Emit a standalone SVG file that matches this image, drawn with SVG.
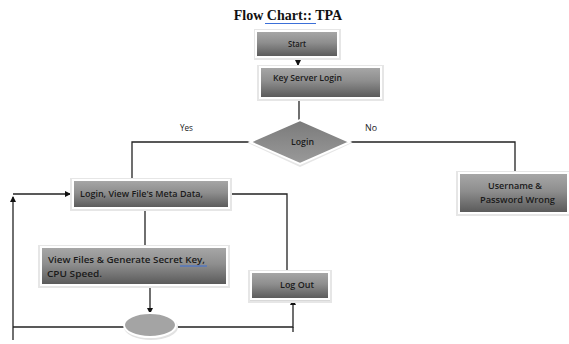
<svg xmlns="http://www.w3.org/2000/svg" width="569" height="344" viewBox="0 0 569 344">
<style>
.box{stroke:#ffffff;stroke-width:2;fill:url(#g)}
.sh{fill:#d8d8d8;stroke:#e6e6e6;stroke-width:2}
.t{font-family:"Open Sans","Liberation Sans",sans-serif;font-size:8.6px;font-weight:600;fill:#1a1a1a}
.c{fill:none;stroke:#222;stroke-width:1.3}
.lbl{font-family:"Open Sans","Liberation Sans",sans-serif;font-size:8.6px;fill:#222}
</style>
<defs>
<linearGradient id="g" x1="0" y1="0" x2="0" y2="1">
<stop offset="0" stop-color="#a8a8a8"/>
<stop offset="0.45" stop-color="#8e8e8e"/>
<stop offset="1" stop-color="#585858"/>
</linearGradient>
<linearGradient id="gd" x1="0" y1="0" x2="0" y2="1">
<stop offset="0" stop-color="#7a7a7a"/>
<stop offset="1" stop-color="#9a9a9a"/>
</linearGradient>
<marker id="ah" markerWidth="6" markerHeight="6" refX="5" refY="3" orient="auto" markerUnits="userSpaceOnUse">
<path d="M0,0 L6,3 L0,6 Z" fill="#111"/>
</marker>
</defs>
<rect width="569" height="344" fill="#ffffff"/>
<g id="title">
<text x="288" y="20" text-anchor="middle" font-family="Liberation Serif,serif" font-weight="bold" font-size="14" fill="#111">Flow Chart:: TPA</text>
<line x1="265" y1="23.5" x2="316" y2="23.5" stroke="#3b6fd8" stroke-width="1.2"/>
</g>
<g id="connectors">
<line class="c" x1="298" y1="57" x2="298" y2="65" marker-end="url(#ah)"/>
<line class="c" x1="299" y1="98" x2="299" y2="121"/>
<polyline class="c" points="250,142 132,142 132,180"/>
<polyline class="c" points="350,142 515,142 515,172"/>
<text class="lbl" x="180" y="131" textLength="13" lengthAdjust="spacingAndGlyphs">Yes</text>
<text class="lbl" x="365" y="131" textLength="12" lengthAdjust="spacingAndGlyphs">No</text>
<line class="c" x1="145" y1="208" x2="145" y2="247"/>
<polyline class="c" points="226,194 287,194 287,271"/>
<line class="c" x1="13" y1="340" x2="13" y2="197" marker-end="url(#ah)"/>
<line class="c" x1="13" y1="194" x2="70" y2="194" marker-end="url(#ah)"/>
<line class="c" x1="150" y1="273" x2="150" y2="313" marker-end="url(#ah)"/>
<line class="c" x1="13" y1="327" x2="124" y2="327"/>
<polyline class="c" points="178,327 293,327 293,300" marker-end="url(#ah)"/>
<line class="c" x1="293" y1="327" x2="293" y2="332"/>
</g>
<g id="start">
<rect class="sh" x="255" y="30" width="85" height="29"/>
<rect class="box" x="256" y="31" width="82" height="26"/>
<text class="t" x="288" y="47" textLength="18" lengthAdjust="spacingAndGlyphs">Start</text>
</g>
<g id="keyserver">
<rect class="sh" x="258" y="66" width="125" height="34"/>
<rect class="box" x="260" y="67" width="121" height="31"/>
<text class="t" x="273" y="81" textLength="69" lengthAdjust="spacingAndGlyphs">Key Server Login</text>
</g>
<g id="login">
<polygon points="300,122 352,143 300,167 248,143" fill="#e6e6e6"/>
<polygon points="300,120 350,142 300,164 250,142" fill="url(#gd)" stroke="#ffffff" stroke-width="2"/>
<text class="t" x="291" y="145" textLength="23" lengthAdjust="spacingAndGlyphs">Login</text>
</g>
<g id="wrong">
<rect class="sh" x="457" y="172" width="112" height="43"/>
<rect class="box" x="459" y="173" width="109" height="40"/>
<text class="t" x="488" y="189" textLength="54" lengthAdjust="spacingAndGlyphs">Username &amp;</text>
<text class="t" x="480" y="203" textLength="75" lengthAdjust="spacingAndGlyphs">Password  Wrong</text>
</g>
<g id="meta">
<rect class="sh" x="71" y="179" width="160" height="31"/>
<rect class="box" x="73" y="180" width="156" height="28"/>
<text class="t" x="80" y="197" textLength="123" lengthAdjust="spacingAndGlyphs">Login, View File's Meta Data,</text>
</g>
<g id="viewfiles">
<rect class="sh" x="39" y="246" width="190" height="41"/>
<rect class="box" x="41" y="247" width="186" height="38"/>
<text class="t" x="48" y="263" textLength="157" lengthAdjust="spacingAndGlyphs">View Files &amp; Generate Secret Key,</text>
<line x1="180" y1="266" x2="207" y2="266" stroke="#3b6fd8" stroke-width="1"/>
<text class="t" x="47" y="277" textLength="55" lengthAdjust="spacingAndGlyphs">CPU Speed.</text>
</g>
<g id="logout">
<rect class="sh" x="249" y="271" width="82" height="31"/>
<rect class="box" x="251" y="272" width="78" height="27"/>
<text class="t" x="280" y="288" textLength="34" lengthAdjust="spacingAndGlyphs">Log Out</text>
</g>
<g id="end">
<ellipse cx="151" cy="327" rx="27" ry="13" fill="#e2e2e2"/>
<ellipse cx="150" cy="325" rx="26" ry="12" fill="#a4a4a4" stroke="#ffffff" stroke-width="2"/>
</g>
</svg>
